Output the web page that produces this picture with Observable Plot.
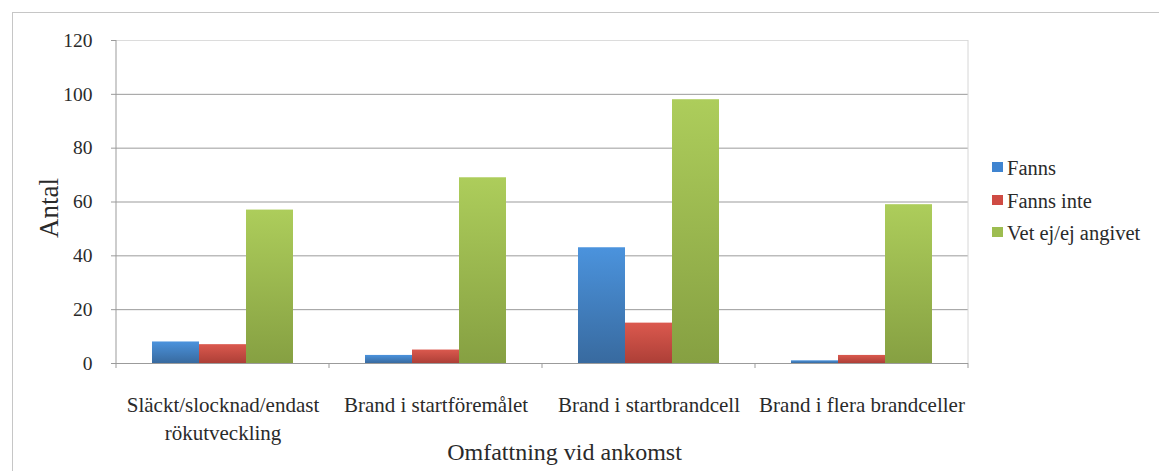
<!DOCTYPE html>
<html>
<head>
<meta charset="utf-8">
<script src="https://cdn.jsdelivr.net/npm/d3@7"></script>
<script src="https://cdn.jsdelivr.net/npm/@observablehq/plot@0.6"></script>
<style>
  html, body { margin: 0; padding: 0; background: #fff; overflow: hidden; width: 1159px; height: 471px; }
  #wrap { position: relative; width: 1159px; height: 471px; font-family: "Liberation Serif", "DejaVu Serif", serif; color: #2a2a2a; }
  #border { position: absolute; left: 12px; top: 12px; width: 1300px; height: 600px; border: 1.5px solid #c6c6c6; box-sizing: border-box; }
  #chart { position: absolute; left: 0; top: 0; }
  #chart svg { overflow: visible; }
  g[aria-label="y-axis label"] { font-size: 27px; }
  g[aria-label="fx-axis label"] { font-size: 24px; }
  g[aria-label="y-axis tick label"] { font-size: 19.5px; }
  #legend { position: absolute; left: 992px; top: 157px; font-size: 20.5px; font-family: "Liberation Serif", "DejaVu Serif", serif; }
  #legend .item { position: relative; height: 32.5px; line-height: 22px; padding-left: 15px; white-space: nowrap; }
  #legend .sw { position: absolute; left: 0; top: 5px; width: 11px; height: 10px; }
</style>
</head>
<body>
<div id="wrap">
  <div id="border"></div>
  <svg id="defs" width="0" height="0" style="position:absolute"><defs></defs></svg>
  <div id="chart"></div>
  <div id="legend"></div>
</div>
<script>
// ---- data ----
const categories = [
  "Släckt/slocknad/endast\nrökutveckling",
  "Brand i startföremålet",
  "Brand i startbrandcell",
  "Brand i flera brandceller"
];
const series = ["Fanns", "Fanns inte", "Vet ej/ej angivet"];
const fanns = [8, 3, 43, 1];
const fannsInte = [7, 5, 15, 3];
const vetEj = [57, 69, 98, 59];
const yTicks = [0, 20, 40, 60, 80, 100, 120];
const xTitle = "Omfattning vid ankomst";
const yTitle = "Antal";

// ---- styles ----
const gradTop = ["#4b93dd", "#db594e", "#adcd5b"];
const gradBottom = ["#386a9f", "#ad3f37", "#86a042"];
const swatchColors = ["#3f84d0", "#cf4b43", "#9dbd50"];
const gradIds = series.map((_, i) => "grad" + i);

const defs = d3.select("#defs defs");
gradIds.forEach((id, i) => {
  const g = defs.append("linearGradient").attr("id", id)
    .attr("x1", 0).attr("y1", 0).attr("x2", 0).attr("y2", 1);
  g.append("stop").attr("offset", 0).attr("stop-color", gradTop[i]);
  g.append("stop").attr("offset", 1).attr("stop-color", gradBottom[i]);
});

const valuesBySeries = [fanns, fannsInte, vetEj];
const rows = categories.flatMap((c, i) =>
  series.map((s, j) => ({cat: c, series: s, value: valuesBySeries[j][i]}))
);

const plot = Plot.plot({
  width: 1159,
  height: 471,
  marginLeft: 116,
  marginRight: 191,
  marginTop: 40,
  marginBottom: 108,
  style: {fontFamily: '"Liberation Serif", "DejaVu Serif", serif', fontSize: "21px", color: "#2a2a2a", background: "transparent", overflow: "visible"},
  fx: {domain: categories, padding: 0, label: null},
  x: {domain: series, paddingInner: 0, paddingOuter: 0.75, axis: null},
  y: {domain: [0, 120], label: null},
  color: {domain: series, range: gradIds.map(id => `url(#${id})`)},
  marks: [
    Plot.ruleY(yTicks.filter(t => t < 120), {stroke: "#9b9b9b", strokeWidth: 1}),
    Plot.ruleY(yTicks.filter(t => t === 120), {stroke: "#dcdcdc", strokeWidth: 1}),
    Plot.barY(rows, {fx: "cat", x: "series", y: "value", fill: "series"}),
    Plot.axisY({ticks: yTicks, tickSize: 5, tickPadding: 19, stroke: "#9b9b9b", label: yTitle, labelAnchor: "center", labelOffset: 78, labelArrow: "none"}),
    Plot.axisFx({anchor: "bottom", tickSize: 0, tickPadding: 29, lineHeight: 1.33, label: xTitle, labelAnchor: "center", labelOffset: 96, labelArrow: "none"})
  ]
});
document.getElementById("chart").appendChild(plot);

// axis decorations from the library's own scales
const svgEl = plot.tagName.toLowerCase() === "svg" ? plot : plot.querySelector("svg");
const fxS = plot.scale("fx");
const yS = plot.scale("y");
const edges = categories.map(c => fxS.apply(c)).concat([fxS.apply(categories[categories.length - 1]) + fxS.bandwidth]);
const y0 = yS.apply(0), yTop = yS.apply(120);
const deco = d3.select(svgEl).append("g").attr("aria-label", "category ticks");
edges.forEach((x, i) => {
  const isFirst = i === 0, isLast = i === edges.length - 1;
  if (isLast) {
    deco.append("line").attr("x1", x).attr("x2", x).attr("y1", yTop).attr("y2", y0)
      .attr("stroke", "#d6d6d6");
  }
  deco.append("line").attr("x1", x).attr("x2", x)
    .attr("y1", isFirst ? yTop : y0).attr("y2", y0 + 5)
    .attr("stroke", "#9b9b9b");
});

// nudge axis titles to where the reference centres them
function nudge(sel, dx, dy) {
  d3.select(svgEl).selectAll(sel).each(function () {
    const t = this.getAttribute("transform") || "";
    this.setAttribute("transform", `translate(${dx},${dy}) ${t}`);
  });
}
nudge('g[aria-label="fx-axis label"]', 22, 0);
nudge('g[aria-label="y-axis label"]', 0, 6);

// legend
const legend = d3.select("#legend");
series.forEach((s, i) => {
  const it = legend.append("div").attr("class", "item");
  it.append("span").attr("class", "sw").style("background", swatchColors[i]);
  it.append("span").text(s);
});
</script>
</body>
</html>
